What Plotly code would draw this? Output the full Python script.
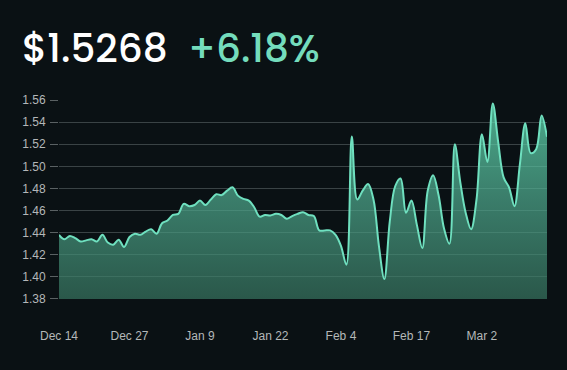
import pandas as pd
import plotly.graph_objects as go

start_date = "2024-12-14"
prices = [
    1.438, 1.434, 1.437, 1.435, 1.432, 1.433, 1.434, 1.432, 1.438, 1.431,
    1.429, 1.4335, 1.427, 1.436, 1.439, 1.438, 1.441, 1.443, 1.439, 1.4485,
    1.451, 1.456, 1.457, 1.466, 1.464, 1.465, 1.469, 1.465, 1.470, 1.4748,
    1.474, 1.478, 1.481, 1.4735, 1.4705, 1.469, 1.463, 1.4545, 1.456, 1.4555,
    1.457, 1.456, 1.4525, 1.455, 1.457, 1.4585, 1.456, 1.455, 1.442, 1.442,
    1.442, 1.438, 1.428, 1.411, 1.527, 1.470, 1.478, 1.484, 1.470, 1.428,
    1.398, 1.450, 1.482, 1.489, 1.458, 1.469, 1.447, 1.426, 1.478, 1.492,
    1.474, 1.444, 1.430, 1.520, 1.486, 1.458, 1.443, 1.470, 1.529, 1.504,
    1.557, 1.522, 1.490, 1.481, 1.464, 1.502, 1.539, 1.512, 1.5155, 1.546,
    1.5268,
]
dates = pd.date_range(start_date, periods=len(prices), freq="D")

price_label = "$1.5268"
change_label = "+6.18%"
tick_dates = ["2024-12-14", "2024-12-27", "2025-01-09", "2025-01-22",
              "2025-02-04", "2025-02-17", "2025-03-02"]
tick_labels = ["Dec 14", "Dec 27", "Jan 9", "Jan 22", "Feb 4", "Feb 17", "Mar 2"]
y_ticks = [1.38, 1.40, 1.42, 1.44, 1.46, 1.48, 1.50, 1.52, 1.54, 1.56]

BG = "#0a1114"
LINE = "#6fe0bf"
GREEN = "#74dcbc"
GRID = "#3a4345"
FONT = "Liberation Sans, Arial, sans-serif"
TICKFONT = dict(family=FONT, size=12, color="#b4b8b9")

fig = go.Figure()
fig.add_trace(go.Scatter(
    x=dates, y=prices, mode="lines",
    line=dict(color=LINE, width=2, shape="spline", smoothing=1.0),
    fill="tozeroy",
    fillgradient=dict(type="vertical", start=1.38, stop=1.56,
                      colorscale=[[0, "rgba(56,118,97,0.7)"],
                                  [0.5, "rgba(79,171,143,0.7)"],
                                  [1, "rgba(104,236,191,0.7)"]]),
    hoverinfo="skip", showlegend=False,
))

fig.update_layout(
    width=567, height=370,
    paper_bgcolor=BG, plot_bgcolor=BG,
    margin=dict(l=59, r=20, t=100, b=71),
    title=dict(
        text=f"{price_label}&nbsp;&nbsp;<span style='color:{GREEN}'>{change_label}</span>",
        x=22 / 567, xref="container", xanchor="left", y=0.87, yanchor="middle",
        font=dict(family="Poppins, Inter, sans-serif", size=39, color="#ffffff", weight=500),
        pad=dict(l=0),
    ),
    xaxis=dict(
        type="date", range=[dates[0], dates[-1]],
        showgrid=False, zeroline=False, showline=False,
        tickmode="array", tickvals=tick_dates, ticktext=tick_labels,
        ticks="", tickfont=TICKFONT, ticklabelstandoff=28,
    ),
    yaxis=dict(
        range=[1.3799, 1.5601], tickvals=y_ticks,
        tickformat=".2f", showgrid=True, gridcolor=GRID, gridwidth=1,
        zeroline=False, showline=False, layer="below traces",
        ticks="outside", ticklen=8, tickcolor="#5a6163", tickwidth=1,
        tickfont=TICKFONT, ticklabelstandoff=2,
    ),
)
fig.write_html("out.html", config={"displayModeBar": False},
               post_script="document.body.style.margin='0px';")
